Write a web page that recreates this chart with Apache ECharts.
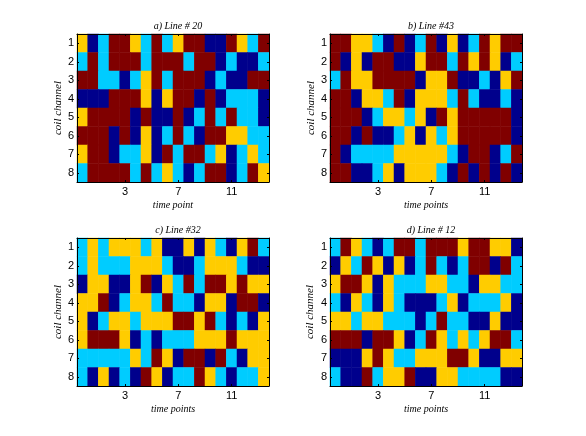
<!DOCTYPE html>
<html>
<head>
<meta charset="utf-8">
<script src="https://cdn.jsdelivr.net/npm/echarts@6/dist/echarts.min.js"></script>
<style>
  html, body { margin: 0; padding: 0; background: #fff; }
  #chart { width: 586px; height: 436px; }
</style>
</head>
<body>
<div id="chart"></div>
<script>
// 0 navy, 1 cyan, 2 yellow, 3 dark red
const lineA = [
  [2,0,1,3,3,2,1,3,1,2,3,3,0,0,3,2,1,3],
  [1,3,1,3,3,3,1,3,3,3,1,3,3,0,1,0,0,1],
  [3,3,1,1,0,1,2,3,1,3,3,3,0,1,0,0,3,3],
  [0,0,0,3,3,3,2,0,2,3,3,0,3,0,1,1,1,0],
  [2,3,3,3,3,0,3,0,0,3,0,1,3,1,3,1,1,0],
  [3,3,3,0,3,0,2,0,1,3,1,0,3,3,2,2,1,1],
  [2,3,3,0,1,1,2,0,3,1,3,3,1,2,0,1,2,1],
  [1,3,3,3,3,1,3,1,2,1,0,1,3,3,0,1,3,2]
]
const lineB = [
  [3,3,2,2,1,0,3,0,1,3,0,2,0,1,3,2,3,3],
  [3,0,2,0,3,3,0,0,2,3,3,1,3,2,3,2,0,1],
  [1,3,2,2,3,3,3,3,0,2,2,3,0,0,1,0,2,3],
  [3,3,0,2,2,1,3,0,2,2,2,1,3,1,0,0,1,0],
  [3,3,3,0,1,2,2,1,2,0,3,2,3,3,3,3,3,0],
  [3,3,0,3,0,0,1,2,0,2,1,2,3,3,3,3,3,0],
  [3,0,1,1,1,1,2,2,2,2,2,1,0,3,3,0,1,3],
  [3,3,0,0,1,2,0,2,2,2,1,0,3,0,3,0,3,0]
]
const lineC = [
  [1,2,1,2,2,2,1,2,0,0,2,0,2,1,0,2,3,1],
  [1,2,1,1,1,2,2,2,1,0,0,1,2,2,2,1,0,0],
  [0,2,2,0,0,2,3,0,2,1,3,1,3,3,2,3,2,2],
  [2,2,3,0,1,2,2,1,3,1,1,0,2,2,0,3,3,0],
  [2,0,1,2,2,1,2,2,2,3,3,2,3,1,0,1,0,2],
  [2,3,3,3,2,0,1,0,1,1,1,2,2,2,3,2,2,2],
  [1,1,1,1,1,2,1,3,2,0,3,3,0,3,1,0,2,2],
  [1,0,2,0,1,0,3,2,0,1,1,3,2,1,0,1,1,2]
]
const lineD = [
  [1,3,2,1,0,1,3,3,1,3,3,3,2,3,3,2,2,0],
  [0,2,1,3,2,0,2,0,1,3,1,0,1,3,3,0,3,1],
  [2,3,3,2,0,2,1,1,1,2,2,1,1,0,2,2,1,1],
  [1,0,2,1,0,2,1,0,0,0,1,2,0,1,1,1,2,0],
  [2,2,1,2,2,1,1,1,0,1,3,1,1,0,0,2,0,0],
  [3,3,3,0,3,3,2,0,1,3,2,1,2,1,2,3,3,1],
  [0,0,0,2,3,2,1,1,2,2,2,3,3,2,0,0,2,2],
  [1,0,0,3,1,2,2,3,0,0,2,2,1,1,1,1,0,0]
]
const timeLabels = ['','','','','3','','','','','7','','','','','11','','','']
const channels = ['1','2','3','4','5','6','7','8']
const panelTitles = ['a) Line # 20', 'b) Line #43', 'c) Line #32', 'd) Line # 12']
const xNames = ['time point', 'time points', 'time points', 'time points']
const panelData = [lineA, lineB, lineC, lineD]
const colors = ['#00008c', '#00ccff', '#ffcc00', '#800000']

const panels = [
  { left: 77, top: 34, yNameGap: 13 },
  { left: 330, top: 34, yNameGap: 11 },
  { left: 77, top: 238, yNameGap: 13 },
  { left: 330, top: 238, yNameGap: 14 }
]
const panelW = 192
const panelH = 148

const serif = '"Liberation Serif"'
const hasLabel = (i) => timeLabels[i] !== ''

const xAxes = []
const yAxes = []
panels.forEach((p, i) => {
  const common = {
    type: 'category',
    gridIndex: i,
    z: 5,
    axisLine: { onZero: false, lineStyle: { color: '#000', width: 1 } },
    splitLine: { show: false }
  }
  const xTick = { show: true, inside: true, length: 2, alignWithLabel: true, interval: hasLabel, lineStyle: { color: '#000' } }
  const yTick = { show: true, inside: true, length: 2, alignWithLabel: true, interval: 0, lineStyle: { color: '#000' } }
  xAxes.push({
    ...common,
    data: timeLabels,
    position: 'bottom',
    name: xNames[i],
    nameLocation: 'middle',
    nameGap: 18,
    nameTextStyle: { fontFamily: serif, fontStyle: 'italic', fontSize: 10, color: '#000' },
    axisTick: xTick,
    axisLabel: { interval: hasLabel, fontFamily: '"Liberation Sans"', fontSize: 11, color: '#000', margin: 4 }
  })
  xAxes.push({ ...common, data: timeLabels, position: 'top', axisTick: xTick, axisLabel: { show: false } })
  yAxes.push({
    ...common,
    data: channels,
    inverse: true,
    position: 'left',
    name: 'coil channel',
    nameLocation: 'middle',
    nameGap: p.yNameGap,
    nameRotate: 90,
    nameTextStyle: { fontFamily: serif, fontStyle: 'italic', fontSize: 11, color: '#000' },
    axisTick: yTick,
    axisLabel: { interval: 0, fontFamily: '"Liberation Sans"', fontSize: 11, color: '#000', margin: 3 }
  })
  yAxes.push({ ...common, data: channels, inverse: true, position: 'right', axisTick: yTick, axisLabel: { show: false } })
})

const option = {
  animation: false,
  backgroundColor: '#fff',
  title: panels.map((p, i) => ({
    text: panelTitles[i],
    left: p.left + panelW / 2,
    top: p.top - 18,
    textAlign: 'center',
    textStyle: { fontFamily: serif, fontStyle: 'italic', fontWeight: 'normal', fontSize: 10, color: '#000' }
  })),
  visualMap: {
    type: 'piecewise',
    show: false,
    seriesIndex: [0, 1, 2, 3],
    dimension: 2,
    pieces: colors.map((c, v) => ({ value: v, color: c }))
  },
  grid: panels.map((p) => ({ left: p.left, top: p.top, width: panelW, height: panelH })),
  xAxis: xAxes,
  yAxis: yAxes,
  series: panelData.map((rows, i) => ({
    type: 'heatmap',
    xAxisIndex: i * 2,
    yAxisIndex: i * 2,
    data: rows.flatMap((row, r) => row.map((v, c) => [c, r, v])),
    itemStyle: { borderWidth: 0 },
    emphasis: { disabled: true }
  }))
}

const myChart = echarts.init(document.getElementById('chart'))
myChart.setOption(option)
</script>
</body>
</html>
